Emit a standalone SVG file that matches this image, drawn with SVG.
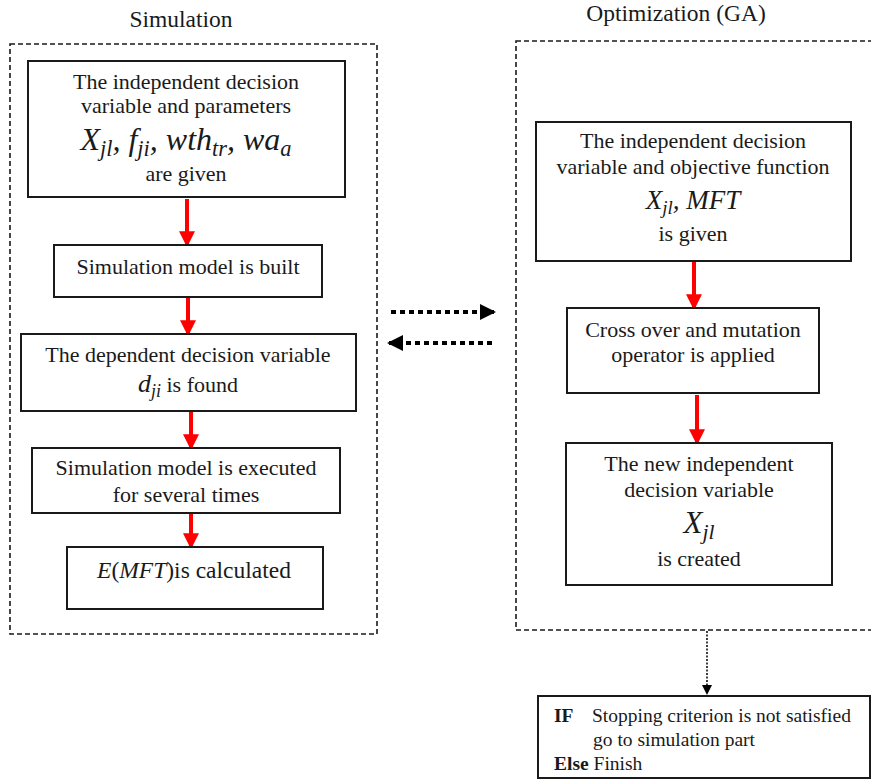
<svg xmlns="http://www.w3.org/2000/svg" width="871" height="783" viewBox="0 0 871 783">
<defs>
<style>
text{font-family:"Liberation Serif","DejaVu Serif",serif;fill:#1a1a1a;}
.t{font-size:22px;text-anchor:middle;}
.h{font-size:23.5px;text-anchor:middle;}
.m{font-style:italic;font-size:27px;text-anchor:middle;}
.s{font-size:70%;}
.box{fill:#fff;stroke:#1a1a1a;stroke-width:2;}
.frame{fill:none;stroke:#1a1a1a;stroke-width:1.6;stroke-dasharray:5,3;}
.red{stroke:#ff0000;stroke-width:4;fill:none;}
.dot{stroke:#000;stroke-width:4;stroke-dasharray:5,4;fill:none;}
.thin{stroke:#000;stroke-width:1.5;stroke-dasharray:2,1.5;fill:none;}
.st{font-size:19.5px;}
</style>
<marker id="ra" markerWidth="4" markerHeight="4" refX="3.2" refY="2" orient="auto" markerUnits="strokeWidth" viewBox="0 0 4 4"><path d="M0,0 L4,2 L0,4 z" fill="#ff0000"/></marker>
<marker id="ba" markerWidth="4" markerHeight="4" refX="3.5" refY="2" orient="auto" markerUnits="strokeWidth" viewBox="0 0 4 4"><path d="M0,0 L4,2 L0,4 z" fill="#000"/></marker>
<marker id="sa" markerWidth="10" markerHeight="10" refX="9" refY="5" orient="auto" markerUnits="userSpaceOnUse" viewBox="0 0 10 10"><path d="M0,0 L10,5 L0,10 z" fill="#000"/></marker>
</defs>
<rect width="871" height="783" fill="#fff"/>

<g id="simulation-frame">
<text class="h" x="181" y="27">Simulation</text>
<rect class="frame" x="10" y="44" width="367" height="590"/>
</g>
<g id="optimization-frame">
<text class="h" x="676" y="21">Optimization (GA)</text>
<rect class="frame" x="516" y="41" width="360" height="589"/>
</g>

<g id="connectors">
<line class="red" x1="187" y1="199" x2="187" y2="244" marker-end="url(#ra)"/>
<line class="red" x1="188" y1="298" x2="188" y2="333" marker-end="url(#ra)"/>
<line class="red" x1="191" y1="412" x2="191" y2="447" marker-end="url(#ra)"/>
<line class="red" x1="191" y1="514" x2="191" y2="546" marker-end="url(#ra)"/>
<line class="red" x1="694" y1="262" x2="694" y2="307" marker-end="url(#ra)"/>
<line class="red" x1="697" y1="395" x2="697" y2="442" marker-end="url(#ra)"/>
<line class="dot" x1="391" y1="312" x2="494" y2="312" marker-end="url(#ba)"/>
<line class="dot" x1="492" y1="343" x2="389" y2="343" marker-end="url(#ba)"/>
<line class="thin" x1="707" y1="631" x2="707" y2="694" marker-end="url(#sa)"/>
</g>

<g id="n1">
<rect class="box" x="28" y="61" width="317" height="136"/>
<text class="t" x="186" y="89">The independent decision</text>
<text class="t" x="186" y="113">variable and parameters</text>
<text class="m" x="186" y="150" style="font-size:32px">X<tspan class="s" dy="6">jl</tspan><tspan dy="-6">, f</tspan><tspan class="s" dy="6">ji</tspan><tspan dy="-6">, wth</tspan><tspan class="s" dy="6">tr</tspan><tspan dy="-6">, wa</tspan><tspan class="s" dy="6">a</tspan></text>
<text class="t" x="186" y="181">are given</text>
</g>
<g id="n2">
<rect class="box" x="54" y="245" width="268" height="52"/>
<text class="t" x="188" y="274">Simulation model is built</text>
</g>
<g id="n3">
<rect class="box" x="21" y="334" width="335" height="77"/>
<text class="t" x="188" y="362">The dependent decision variable</text>
<text class="t" x="188" y="392"><tspan style="font-style:italic;font-size:26px">d</tspan><tspan style="font-style:italic;font-size:18px" dy="5">ji</tspan><tspan dy="-5"> is found</tspan></text>
</g>
<g id="n4">
<rect class="box" x="32" y="448" width="308" height="65"/>
<text class="t" x="186" y="475">Simulation model is executed</text>
<text class="t" x="186" y="502">for several times</text>
</g>
<g id="n5">
<rect class="box" x="67" y="547" width="256" height="62"/>
<text class="t" x="194" y="578" style="font-size:23.5px"><tspan font-style="italic">E</tspan>(<tspan font-style="italic">MFT</tspan>)is calculated</text>
</g>

<g id="o1">
<rect class="box" x="536" y="122" width="315" height="139"/>
<text class="t" x="693" y="148">The independent decision</text>
<text class="t" x="693" y="174">variable and objective function</text>
<text class="m" x="693" y="209">X<tspan class="s" dy="5">jl</tspan><tspan dy="-5">, MFT</tspan></text>
<text class="t" x="693" y="241">is given</text>
</g>
<g id="o2">
<rect class="box" x="567" y="308" width="252" height="85"/>
<text class="t" x="693" y="337">Cross over and mutation</text>
<text class="t" x="693" y="362">operator is applied</text>
</g>
<g id="o3">
<rect class="box" x="566" y="443" width="266" height="142"/>
<text class="t" x="699" y="471">The new independent</text>
<text class="t" x="699" y="497">decision variable</text>
<text class="m" x="699" y="533" style="font-size:31px">X<tspan class="s" dy="6">jl</tspan></text>
<text class="t" x="699" y="566">is created</text>
</g>
<g id="stop">
<rect class="box" x="538" y="696" width="332" height="82"/>
<text class="st" x="554" y="722" font-weight="bold">IF</text>
<text class="st" x="592" y="722">Stopping criterion is not satisfied</text>
<text class="st" x="593" y="746">go to simulation part</text>
<text class="st" x="554" y="770"><tspan font-weight="bold">Else</tspan> Finish</text>
</g>
</svg>
